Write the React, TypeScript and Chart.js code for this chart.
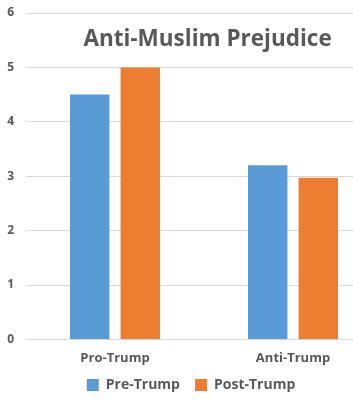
import React, { useEffect, useRef } from "react";
import { Chart, registerables } from "chart.js";

Chart.register(...registerables);

const categories = ["Pro-Trump", "Anti-Trump"];
const preTrump = [4.5, 3.2];
const postTrump = [5.0, 2.97];
const seriesNames = ["Pre-Trump", "Post-Trump"];
const titleText = "Anti-Muslim Prejudice";

const FONT = "'Open Sans', 'DejaVu Sans', sans-serif";
const GRAY = "#595959";
const LEGEND_PAD = 15;
const LEGEND_HEIGHT = 23;

const titlePlugin = {
  id: "innerTitle",
  afterDraw(chart: any) {
    const ctx = chart.ctx;
    const area = chart.chartArea;
    ctx.save();
    ctx.font = `bold 22.5px ${FONT}`;
    ctx.fillStyle = GRAY;
    ctx.textAlign = "center";
    ctx.textBaseline = "middle";
    ctx.fillText(titleText, area.left + (area.right - area.left) * 0.51, area.top + 27);
    ctx.restore();
  },
};

const legendTweak = {
  id: "legendTweak",
  beforeLayout(chart: any) {
    const lg = chart.legend;
    if (!lg || lg.__tweaked) return;
    lg.__tweaked = true;
    const origFit = lg.fit;
    lg.fit = function () {
      origFit.call(this);
      this.height = LEGEND_HEIGHT;
    };
    const origDraw = lg.draw;
    lg.draw = function () {
      const t = this.top;
      this.top = t - (LEGEND_PAD - 1);
      origDraw.call(this);
      this.top = t;
    };
  },
};

export default function App() {
  const ref = useRef<HTMLCanvasElement>(null);
  useEffect(() => {
    if (!ref.current) return;
    const chart = new Chart(ref.current, {
      type: "bar",
      data: {
        labels: categories,
        datasets: [
          {
            label: seriesNames[0],
            data: preTrump,
            backgroundColor: "#5b9bd5",
            categoryPercentage: 0.568,
            barPercentage: 0.78,
          },
          {
            label: seriesNames[1],
            data: postTrump,
            backgroundColor: "#ed7d31",
            categoryPercentage: 0.568,
            barPercentage: 0.78,
          },
        ],
      },
      options: {
        animation: false,
        responsive: false,
        maintainAspectRatio: false,
        layout: { padding: { top: 0, left: 0, right: 0, bottom: 0 } },
        plugins: {
          legend: {
            position: "bottom",
            labels: {
              color: GRAY,
              font: { family: FONT, size: 14, weight: "bold" },
              boxWidth: 12,
              boxHeight: 12,
              padding: LEGEND_PAD,
            },
          },
          tooltip: { enabled: false },
          title: { display: false },
        },
        scales: {
          x: {
            grid: { display: false, drawTicks: false },
            border: { display: false },
            ticks: {
              color: GRAY,
              font: { family: FONT, size: 13, weight: "bold" },
              padding: 11,
            },
          },
          y: {
            min: 0,
            max: 6,
            grid: { color: "#d9d9d9", drawTicks: false },
            border: { display: false },
            ticks: {
              stepSize: 1,
              color: GRAY,
              font: { family: FONT, size: 12, weight: "bold" },
              padding: 12,
            },
            afterFit(scale: any) {
              scale.width = 26;
              scale.paddingTop = 13;
            },
          },
        },
      },
      plugins: [titlePlugin, legendTweak],
    });
    return () => chart.destroy();
  }, []);
  return (
    <div
      style={{
        position: "absolute",
        left: 0,
        top: 0,
        width: 353,
        height: 400,
        overflow: "hidden",
        background: "#fff",
      }}
    >
      <canvas ref={ref} width={382} height={400} style={{ display: "block" }} />
    </div>
  );
}
